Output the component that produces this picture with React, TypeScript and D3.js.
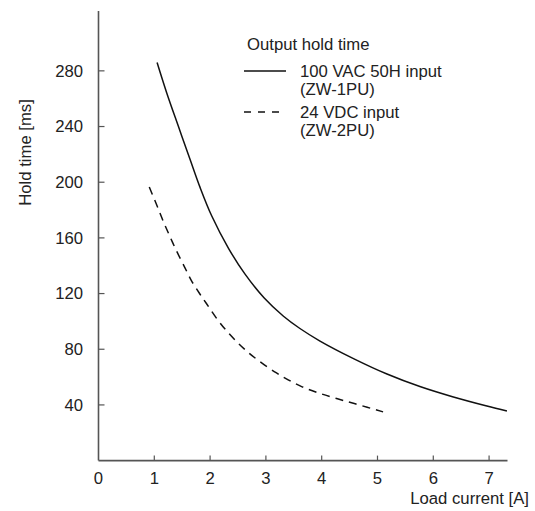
import React from "react";
import * as d3 from "d3";

const acX = [1.05, 1.22, 1.43, 1.64, 1.82, 2.03, 2.33, 2.62, 2.97, 3.31, 3.61, 3.97, 4.57, 5.17, 5.76, 6.36, 6.96, 7.32];
const acY = [286, 264.5, 240.3, 216.5, 196.3, 175.7, 152.5, 134.3, 116.8, 103.9, 94.9, 85.9, 73.3, 62.2, 53.2, 45.7, 39.2, 35.6];
const dcX = [0.91, 1.04, 1.16, 1.28, 1.4, 1.55, 1.67, 1.82, 1.94, 2.12, 2.3, 2.5, 2.69, 2.93, 3.19, 3.4, 3.65, 3.95, 4.25, 4.6, 5.1];
const dcY = [196.5, 184, 172, 161, 150.5, 138.5, 129, 119.5, 112.5, 102, 93, 84.5, 77.5, 70, 63, 58, 53, 48.5, 44.8, 40.8, 35];
const xTicks = [0, 1, 2, 3, 4, 5, 6, 7];
const yTicks = [40, 80, 120, 160, 200, 240, 280];
const legendTitle = "Output hold time";
const legendAC = ["100 VAC 50H input", "(ZW-1PU)"];
const legendDC = ["24 VDC input", "(ZW-2PU)"];
const xLabel = "Load current [A]";
const yLabel = "Hold time [ms]";

export default function App() {
  const W = 535, H = 511;
  const x = d3.scaleLinear().domain([0, 7.33]).range([98.5, 507.5]);
  const y = d3.scaleLinear().domain([0, 323]).range([460.6, 11]);
  const line = d3
    .line<[number, number]>()
    .x((d) => x(d[0]))
    .y((d) => y(d[1]))
    .curve(d3.curveCatmullRom.alpha(0.5));
  const acPts = acX.map((v, i) => [v, acY[i]] as [number, number]);
  const dcPts = dcX.map((v, i) => [v, dcY[i]] as [number, number]);
  const font = "'Liberation Sans', Arial, Helvetica, sans-serif";
  const axisColor = "#555";
  const fs = 16.7;
  return (
    <svg
      width={W}
      height={H}
      style={{ position: "absolute", left: 0, top: 0, background: "#fff" }}
      fontFamily={font}
    >
      <rect x={0} y={0} width={W} height={H} fill="#fff" />
      <line x1={x(0)} x2={x(0)} y1={y(0)} y2={y(323)} stroke={axisColor} strokeWidth={1.6} />
      <line x1={x(0)} x2={x(7.33)} y1={y(0)} y2={y(0)} stroke={axisColor} strokeWidth={1.6} />
      {yTicks.map((t) => (
        <g key={"y" + t}>
          <line x1={x(0)} x2={x(0) + 6} y1={y(t)} y2={y(t)} stroke={axisColor} strokeWidth={1.2} />
          <text x={83} y={y(t)} dy="0.35em" textAnchor="end" fontSize={fs} fill="#222">
            {t}
          </text>
        </g>
      ))}
      {xTicks.map((t) => (
        <g key={"x" + t}>
          {t > 0 && (
            <line x1={x(t)} x2={x(t)} y1={y(0)} y2={y(0) - 5} stroke={axisColor} strokeWidth={1.2} />
          )}
          <text x={x(t)} y={483.5} textAnchor="middle" fontSize={fs} fill="#222">
            {t}
          </text>
        </g>
      ))}
      <text x={529} y={504} textAnchor="end" fontSize={fs} fill="#222">
        {xLabel}
      </text>
      <text
        transform="translate(30.5,152.5) rotate(-90)"
        textAnchor="middle"
        fontSize={fs}
        fill="#222"
      >
        {yLabel}
      </text>
      <path d={line(acPts) || ""} fill="none" stroke="#111" strokeWidth={1.5} />
      <path d={line(dcPts) || ""} fill="none" stroke="#111" strokeWidth={1.5} strokeDasharray="8,6" />
      <text x={247} y={50} fontSize={fs} fill="#222">
        {legendTitle}
      </text>
      <line x1={244} x2={286} y1={71} y2={71} stroke="#111" strokeWidth={1.5} />
      <text x={300} y={77} fontSize={fs} fill="#222">
        {legendAC[0]}
      </text>
      <text x={300} y={95} fontSize={fs} fill="#222">
        {legendAC[1]}
      </text>
      <line x1={244} x2={286} y1={112} y2={112} stroke="#111" strokeWidth={1.5} strokeDasharray="7,7" />
      <text x={300} y={118} fontSize={fs} fill="#222">
        {legendDC[0]}
      </text>
      <text x={300} y={136} fontSize={fs} fill="#222">
        {legendDC[1]}
      </text>
    </svg>
  );
}
